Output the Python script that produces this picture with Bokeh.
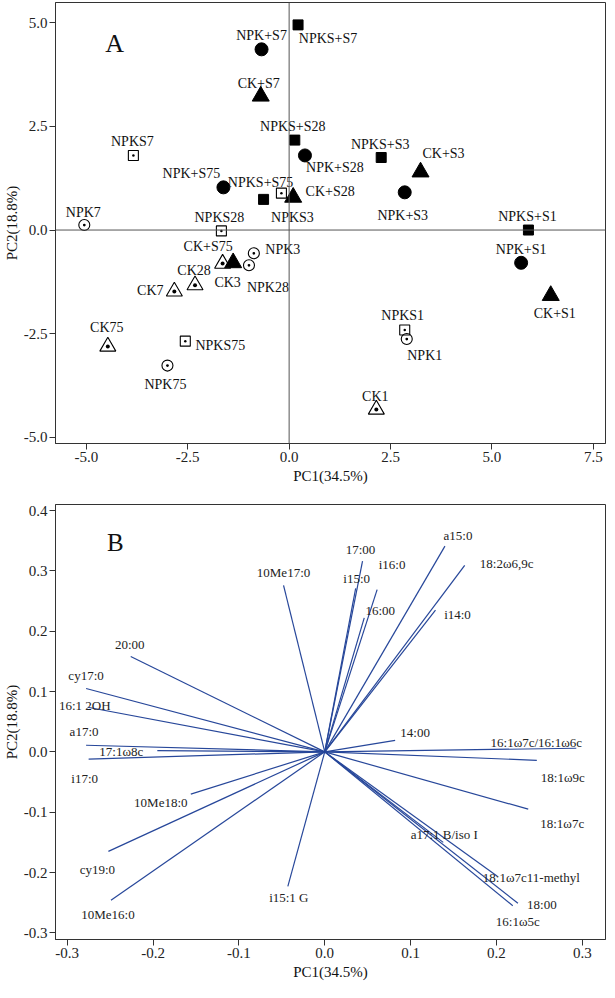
from bokeh.plotting import figure
from bokeh.layouts import column
from bokeh.models import Span, Label, NumeralTickFormatter, FixedTicker
from bokeh.embed import file_html
from bokeh.resources import INLINE
from bokeh.core.properties import value

# ---------------- Panel A data (PCA scores) ----------------
ck_s_names = ["CK+S1", "CK+S3", "CK+S7", "CK+S28", "CK+S75"]
ck_s_pc1 = [6.45, 3.24, -0.70, 0.10, -1.38]
ck_s_pc2 = [-1.58, 1.40, 3.23, 0.79, -0.79]

npk_s_names = ["NPK+S1", "NPK+S3", "NPK+S7", "NPK+S28", "NPK+S75"]
npk_s_pc1 = [5.72, 2.85, -0.68, 0.39, -1.62]
npk_s_pc2 = [-0.79, 0.91, 4.36, 1.80, 1.03]

npks_s_names = ["NPKS+S1", "NPKS+S3", "NPKS+S7", "NPKS+S28", "NPKS+S75"]
npks_s_pc1 = [5.90, 2.27, 0.22, 0.14, -0.63]
npks_s_pc2 = [0.00, 1.75, 4.95, 2.17, 0.74]

ck_names = ["CK1", "CK3", "CK7", "CK28", "CK75"]
ck_pc1 = [2.15, -1.64, -2.83, -2.32, -4.47]
ck_pc2 = [-4.33, -0.81, -1.48, -1.33, -2.81]

npk_names = ["NPK1", "NPK3", "NPK7", "NPK28", "NPK75"]
npk_pc1 = [2.90, -0.87, -5.05, -0.99, -3.00]
npk_pc2 = [-2.63, -0.56, 0.12, -0.85, -3.27]

npks_names = ["NPKS1", "NPKS3", "NPKS7", "NPKS28", "NPKS75"]
npks_pc1 = [2.85, -0.19, -3.84, -1.67, -2.56]
npks_pc2 = [-2.41, 0.89, 1.80, -0.02, -2.68]

a_xticks = [-5.0, -2.5, 0.0, 2.5, 5.0, 7.5]
a_yticks = [-5.0, -2.5, 0.0, 2.5, 5.0]

# ---------------- Panel B data (loadings) ----------------
fa_names = ["10Me17:0", "20:00", "cy17:0", "16:1 2OH", "a17:0", "17:1\u03c98c",
            "i17:0", "10Me18:0", "cy19:0", "10Me16:0", "i15:1 G", "17:00",
            "i15:0", "i16:0", "16:00", "a15:0", "18:2\u03c96,9c", "i14:0",
            "14:00", "16:1\u03c97c/16:1\u03c96c", "18:1\u03c99c", "18:1\u03c97c",
            "a17:1 B/iso I", "18:1\u03c97c11-methyl", "18:00", "16:1\u03c95c"]
fa_pc1 = [-0.048, -0.226, -0.278, -0.276, -0.278, -0.195,
          -0.275, -0.156, -0.252, -0.249, -0.043, 0.044,
          0.036, 0.061, 0.046, 0.140, 0.163, 0.129,
          0.082, 0.293, 0.247, 0.237,
          0.138, 0.201, 0.225, 0.219]
fa_pc2 = [0.276, 0.158, 0.105, 0.074, 0.011, 0.002,
          -0.012, -0.070, -0.165, -0.246, -0.223, 0.316,
          0.271, 0.269, 0.222, 0.341, 0.309, 0.235,
          0.019, 0.006, -0.014, -0.095,
          -0.150, -0.206, -0.251, -0.255]

b_xticks = [-0.3, -0.2, -0.1, 0.0, 0.1, 0.2, 0.3]
b_yticks = [-0.3, -0.2, -0.1, 0.0, 0.1, 0.2, 0.3, 0.4]

# ---------------- label placement (screen pixel offsets) ----------------
ck_s_off = [(4, 18), (23, -19), (-2, -13), (37, -6), (-25, -16)]
npk_s_off = [(0, -13), (-2, 23), (0, -14), (30, 12), (-32, -14)]
npks_s_off = [(-1, -14), (-1, -13), (30, 14), (-2, -14), (-3, -17)]
ck_off = [(-1, -13), (5, 19), (-24, -1), (-1, -15), (-1, -19)]
npk_off = [(18, 16), (29, -4), (-1, -13), (19, 22), (-2, 19)]
npks_off = [(-2, -14), (11, 24), (-1, -14), (-2, -13), (35, 4)]

fa_off = [(0, -13), (-1, -12), (0, -13), (-3, -2), (-2, -14), (-36, 1),
          (-4, 19), (-30, 8), (-11, 18), (-3, 14), (1, 11), (-2, -12),
          (1, -10), (15, -25), (16, -7), (13, -11), (42, -2), (22, 4),
          (20, -8), (-40, -6), (26, 17), (34, 14),
          (1, -8), (34, 1), (24, 1), (5, 16)]

SERIF = "Liberation Serif"
FRAME = "#333333"
VEC = "#27479a"


def style_axes(p, xticks, yticks, fmt):
    p.grid.visible = False
    p.outline_line_color = FRAME
    p.outline_line_width = 1
    p.background_fill_color = "white"
    p.border_fill_color = "white"
    p.xaxis.ticker = FixedTicker(ticks=xticks)
    p.yaxis.ticker = FixedTicker(ticks=yticks)
    for ax in (p.xaxis[0], p.yaxis[0]):
        ax.formatter = NumeralTickFormatter(format=fmt)
        ax.axis_line_color = FRAME
        ax.major_tick_line_color = FRAME
        ax.major_tick_out = 6
        ax.major_tick_in = 0
        ax.minor_tick_line_color = None
        ax.major_label_text_font = SERIF
        ax.major_label_text_font_size = "15px"
        ax.major_label_text_color = "#222222"
        ax.major_label_standoff = 2
        ax.axis_label_text_font = SERIF
        ax.axis_label_text_font_size = "15px"
        ax.axis_label_text_font_style = "normal"
        ax.axis_label_text_color = "#111111"
        ax.axis_label_standoff = 3
    p.yaxis[0].axis_label_standoff = 1
    p.xaxis.axis_label = "PC1(34.5%)"
    p.yaxis.axis_label = "PC2(18.8%)"


# ---------------- Panel A ----------------
pA = figure(width=607, height=486, x_range=(-5.76, 7.8), y_range=(-5.15, 5.49),
            output_backend="svg", toolbar_location=None,
            min_border_top=2, min_border_right=2, min_border_left=30, min_border_bottom=10)
style_axes(pA, a_xticks, a_yticks, "0.0")

pA.add_layout(Span(location=0, dimension="width", line_color="#555555", line_width=1))
pA.add_layout(Span(location=0, dimension="height", line_color="#555555", line_width=1))

pA.scatter(ck_s_pc1, ck_s_pc2, marker="triangle", size=17, fill_color="black", line_color="black")
pA.scatter(npk_s_pc1, npk_s_pc2, marker="circle", size=13, fill_color="black", line_color="black")
pA.scatter(npks_s_pc1, npks_s_pc2, marker="square", size=10, fill_color="black", line_color="black")
pA.scatter(ck_pc1, ck_pc2, marker="triangle_dot", size=16, fill_color=None, line_color="black", line_width=1.1)
pA.scatter(npk_pc1, npk_pc2, marker="circle_dot", size=11, fill_color=None, line_color="black", line_width=1.1)
pA.scatter(npks_pc1, npks_pc2, marker="square_dot", size=10, fill_color=None, line_color="black", line_width=1.1)

lab_names = ck_s_names + npk_s_names + npks_s_names + ck_names + npk_names + npks_names
lab_x = ck_s_pc1 + npk_s_pc1 + npks_s_pc1 + ck_pc1 + npk_pc1 + npks_pc1
lab_y = ck_s_pc2 + npk_s_pc2 + npks_s_pc2 + ck_pc2 + npk_pc2 + npks_pc2
offs = ck_s_off + npk_s_off + npks_s_off + ck_off + npk_off + npks_off
pA.text(x=lab_x, y=lab_y, text=lab_names,
        x_offset=[o[0] for o in offs], y_offset=[o[1] for o in offs],
        text_align="center", text_baseline="middle",
        text_font=value(SERIF), text_font_size="14px", text_color="#111111")

pA.add_layout(Label(x=-4.3, y=4.5, text="A", text_font=SERIF, text_font_size="26px",
                    text_align="center", text_baseline="middle", text_color="#111111"))

# ---------------- Panel B ----------------
pB = figure(width=607, height=496, x_range=(-0.3136, 0.327), y_range=(-0.311, 0.41),
            output_backend="svg", toolbar_location=None,
            min_border_top=18, min_border_right=2, min_border_left=30, min_border_bottom=10)
style_axes(pB, b_xticks, b_yticks, "0.0")

pB.segment(x0=[0.0] * len(fa_pc1), y0=[0.0] * len(fa_pc2), x1=fa_pc1, y1=fa_pc2,
           line_color=VEC, line_width=1.2)
pB.text(x=fa_pc1, y=fa_pc2, text=fa_names,
        x_offset=[o[0] for o in fa_off], y_offset=[o[1] for o in fa_off],
        text_align="center", text_baseline="middle",
        text_font=value(SERIF), text_font_size="13px", text_color="#222222")

pB.add_layout(Label(x=-0.244, y=0.347, text="B", text_font=SERIF, text_font_size="25px",
                    text_align="center", text_baseline="middle", text_color="#111111"))

layout = column(pA, pB, spacing=0)
open("out.html", "w").write(file_html(layout, INLINE))
